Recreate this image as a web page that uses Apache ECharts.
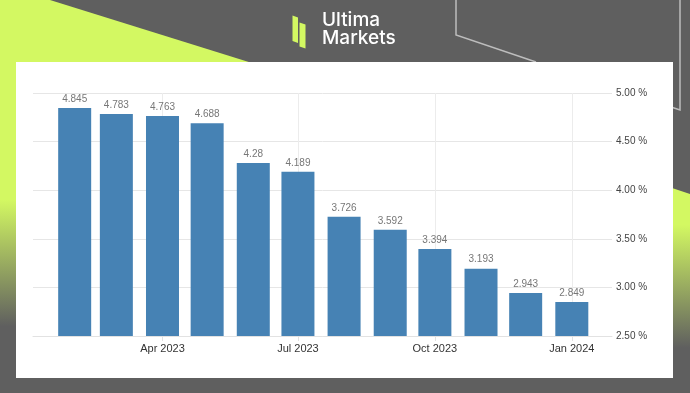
<!DOCTYPE html>
<html><head><meta charset="utf-8">
<script src="https://cdn.jsdelivr.net/npm/echarts@6/dist/echarts.min.js"></script>
<style>html,body{margin:0;padding:0;background:#5f5f5f;}#c{width:690px;height:393px;}</style>
</head><body><div id="c"></div>
<script>
const months = ['2023-02-01','2023-03-01','2023-04-01','2023-05-01','2023-06-01','2023-07-01','2023-08-01','2023-09-01','2023-10-01','2023-11-01','2023-12-01','2024-01-01'];
const rates = [4.845, 4.783, 4.763, 4.688, 4.28, 4.189, 3.726, 3.592, 3.394, 3.193, 2.943, 2.849];
const tickDates = ['2023-04-01','2023-07-01','2023-10-01','2024-01-01'];
const tickLabels = ['Apr 2023','Jul 2023','Oct 2023','Jan 2024'];
const xRange = ['2023-01-04','2024-01-28'];
const yMin = 2.5, yMax = 5.0, yStep = 0.5;

const ts = s => new Date(s + 'T00:00:00Z').getTime();
const tickTs = tickDates.map(ts);
const LIME = '#d3f862', GRAY = '#5f5f5f', LINE = '#bdbdbd';
const FONT = '"Liberation Sans", Arial, sans-serif';

const chart = echarts.init(document.getElementById('c'), null, {renderer: 'canvas'});
const G = echarts.graphic;
chart.setOption({
  backgroundColor: GRAY,
  animation: false,
  graphic: [
    {type:'polygon', z:-10, shape:{points:[[0,0],[50,0],[252,63],[0,63]]}, style:{fill:LIME}},
    {type:'rect', z:-10, shape:{x:0,y:60,width:17,height:333},
      style:{fill:new G.LinearGradient(0,60,0,393,[{offset:0,color:LIME},{offset:0.42,color:LIME},{offset:0.8,color:GRAY},{offset:1,color:GRAY}],true)}},
    {type:'polygon', z:-10, shape:{points:[[672,188],[690,194],[690,393],[672,393]]},
      style:{fill:new G.LinearGradient(0,188,0,393,[{offset:0,color:LIME},{offset:0.18,color:LIME},{offset:0.78,color:GRAY},{offset:1,color:GRAY}],true)}},
    {type:'polyline', z:-9, shape:{points:[[456,0],[456,35],[536,62]]}, style:{stroke:LINE, lineWidth:1.5, fill:null}},
    {type:'polyline', z:-9, shape:{points:[[680,0],[680,110],[668,106]]}, style:{stroke:LINE, lineWidth:1.5, fill:null}},
    {type:'rect', z:-8, shape:{x:16,y:62,width:657,height:316}, style:{fill:'#ffffff'}},
    {type:'polygon', z:-8, shape:{points:[[292.5,15.5],[298,17.5],[298,43],[292.5,41]]}, style:{fill:LIME}},
    {type:'polygon', z:-8, shape:{points:[[299.5,22.5],[305.5,24.5],[305.5,48.5],[299.5,46.5]]}, style:{fill:LIME}},
    {type:'text', z:-8, style:{x:322,y:11,text:'Ultima',fill:'#ffffff',font:'500 19px Inter, "Noto Sans", sans-serif',verticalAlign:'top'}},
    {type:'text', z:-8, style:{x:322,y:29,text:'Markets',fill:'#ffffff',font:'500 19px Inter, "Noto Sans", sans-serif',verticalAlign:'top'}}
  ],
  grid: {left:33, right:78, top:93, bottom:57, containLabel:false},
  xAxis: {
    type:'value', min: ts(xRange[0]), max: ts(xRange[1]),
    axisLine:{show:true, lineStyle:{color:'#e2e2e2', width:1}},
    axisTick:{show:true, customValues: tickTs, length:5, lineStyle:{color:'#e2e2e2'}},
    axisLabel:{customValues: tickTs, color:'#333', fontSize:11, margin:7, fontFamily:FONT,
      formatter: v => { const i = tickTs.indexOf(v); return i >= 0 ? tickLabels[i] : ''; }},
    splitLine:{show:true, customValues: tickTs, lineStyle:{color:'#ececec'}}
  },
  yAxis: {
    type:'value', position:'right', min:yMin, max:yMax, interval:yStep,
    axisLine:{show:false}, axisTick:{show:false},
    axisLabel:{color:'#444', fontSize:10, margin:4, fontFamily:FONT, formatter: v => v.toFixed(2) + ' %'},
    splitLine:{lineStyle:{color:'#e6e6e6'}}
  },
  series: [{
    type:'bar', barWidth:33,
    data: months.map((m,i) => [ts(m), rates[i]]),
    itemStyle:{color:'#4682b4'},
    label:{show:true, position:'top', distance:4, color:'#777', fontSize:10, fontFamily:FONT,
      formatter: p => String(p.value[1])}
  }]
});
</script></body></html>
